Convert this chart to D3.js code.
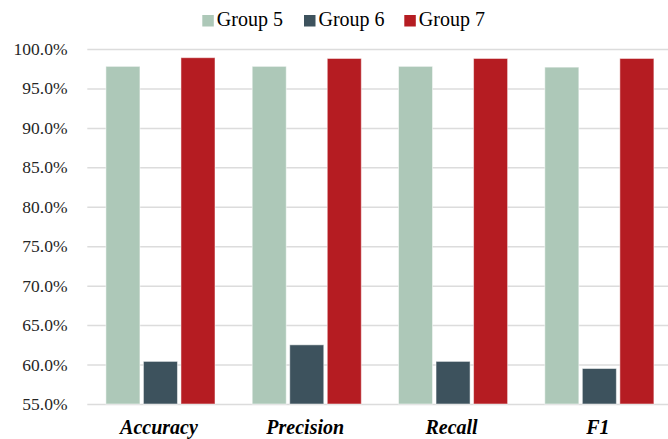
<!DOCTYPE html>
<html>
<head>
<meta charset="utf-8">
<script src="https://cdn.jsdelivr.net/npm/d3@7"></script>
<style>
  html, body { margin: 0; padding: 0; background: #fff; }
  svg { display: block; }
  svg text { font-family: "Liberation Serif", "Times New Roman", Times, Tinos, "Noto Serif", "DejaVu Serif", FreeSerif, "Nimbus Roman", serif; }
</style>
</head>
<body>
<svg id="chart" width="668" height="439"></svg>
<script>
const categories = ["Accuracy", "Precision", "Recall", "F1"];
const seriesNames = ["Group 5", "Group 6", "Group 7"];
const group5 = [0.978, 0.978, 0.978, 0.977];
const group6 = [0.604, 0.625, 0.604, 0.595];
const group7 = [0.989, 0.988, 0.988, 0.988];
const colors = ["#adc8b8", "#3d525d", "#b51c22"];
const yTicks = [0.55, 0.60, 0.65, 0.70, 0.75, 0.80, 0.85, 0.90, 0.95, 1.00];

const seriesValues = [group5, group6, group7];
const data = categories.map((c, i) => ({
  category: c,
  values: seriesNames.map((s, j) => ({ series: s, idx: j, value: seriesValues[j][i] }))
}));

const svg = d3.select("#chart");
const plotLeft = 87.3, plotRight = 672.5, plotTop = 49, plotBottom = 404;

const y = d3.scaleLinear().domain([0.55, 1.0]).range([plotBottom, plotTop]);
const x0 = d3.scaleBand().domain(categories).range([plotLeft, plotRight]).paddingInner(0).paddingOuter(0);
const groupPad = 18.6;
const x1 = d3.scaleBand().domain(seriesNames)
  .range([groupPad, x0.bandwidth() - groupPad]).paddingInner(0.093).paddingOuter(0);

// gridlines
const yAxis = d3.axisLeft(y).tickValues(yTicks).tickSize(-(plotRight - plotLeft)).tickFormat("");
const gridG = svg.append("g").attr("transform", `translate(${plotLeft},0)`).call(yAxis);
gridG.select(".domain").remove();
gridG.selectAll(".tick line").attr("stroke", "#dcdcdc").attr("stroke-width", 1.5);

// tick labels
svg.append("g").selectAll("text").data(yTicks).join("text")
  .attr("x", 67.5)
  .attr("y", d => y(d) + 6)
  .attr("text-anchor", "end")
  .style("font-size", "17.5px")
  .attr("fill", "#262626")
  .text(d => d3.format(".1%")(d));

// bars
const groups = svg.append("g").selectAll("g").data(data).join("g")
  .attr("transform", d => `translate(${x0(d.category)},0)`);
groups.selectAll("rect").data(d => d.values).join("rect")
  .attr("x", d => x1(d.series))
  .attr("width", x1.bandwidth())
  .attr("y", d => y(d.value))
  .attr("height", d => y(0.55) - y(d.value))
  .attr("fill", d => colors[d.idx])
  .attr("stroke", "#ffffff")
  .attr("stroke-opacity", 0.5)
  .attr("stroke-width", 1);

// category labels
svg.append("g").selectAll("text").data(categories).join("text")
  .attr("x", d => x0(d) + x0.bandwidth() / 2 - 1.5)
  .attr("y", 434)
  .attr("text-anchor", "middle")
  .style("font-weight", "bold")
  .style("font-style", "italic")
  .style("font-size", "20px")
  .attr("fill", "#000")
  .text(d => d);

// legend
const legendX = [202.3, 304, 404.3];
const legend = svg.append("g").selectAll("g").data(seriesNames).join("g")
  .attr("transform", (d, i) => `translate(${legendX[i]},0)`);
legend.append("rect")
  .attr("x", 0).attr("y", 15).attr("width", 11.5).attr("height", 11.5)
  .attr("fill", (d, i) => colors[i]);
legend.append("text")
  .attr("x", 14.5).attr("y", 26)
  .style("font-size", "20px")
  .attr("fill", "#000")
  .text(d => d);
</script>
</body>
</html>
